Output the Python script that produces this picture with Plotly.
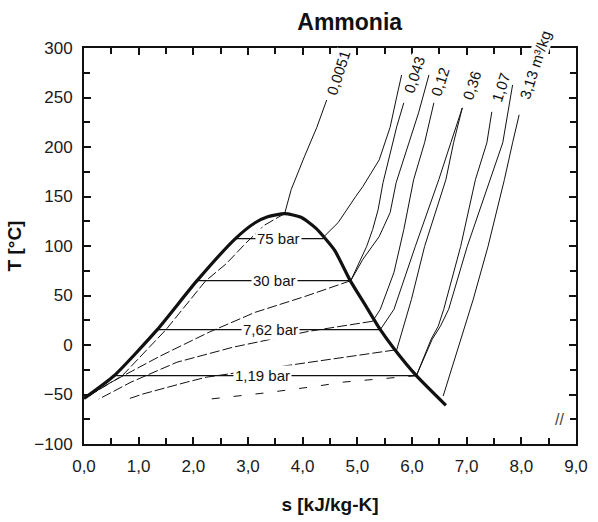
import plotly.graph_objects as go

# ---- saturation dome: liquid branch -> critical point -> vapour branch ----
dome_s = [0.0, 0.55, 1.34, 2.06, 2.77, 3.13, 3.36, 3.67, 3.97, 4.24, 4.58, 4.87, 5.16, 5.42, 5.69, 6.08, 6.62]
dome_T = [-54, -31, 15.5, 64.5, 107.5, 123.5, 129.5, 132.7, 129, 118, 96, 65, 39, 15.5, -5, -31, -61]

# ---- isobars across the two-phase region ----
isobar_names = ["75 bar", "30 bar", "7,62 bar", "1,19 bar"]
isobar_T = [107.5, 65, 15.5, -31]
isobar_s_liq = [2.77, 2.06, 1.34, 0.55]
isobar_s_vap = [4.38, 4.88, 5.42, 6.08]
isobar_label_s = [3.56, 3.49, 3.42, 3.27]

# ---- superheated-vapour lines ----
v0051_s = [3.67, 3.79, 4.03, 4.26, 4.44]
v0051_T = [132.7, 157, 190, 220, 247.6]

p75_s = [4.38, 4.65, 4.97, 5.10, 5.40, 5.60, 5.72, 5.81]
p75_T = [109, 123.7, 150, 160, 187, 220, 250.6, 272.8]

p30_s = [4.88, 5.03, 5.17, 5.28, 5.38, 5.47, 5.62, 5.72, 5.85]
p30_T = [65, 82.4, 99.5, 116.6, 136.7, 164, 197.2, 220.4, 244.6]

v043_s = [4.88, 5.10, 5.40, 5.60, 5.71, 5.94, 6.12, 6.31]
v043_T = [65, 86.4, 109.6, 133.7, 164, 204.3, 234.5, 272.8]

v012_s = [5.28, 5.42, 5.67, 5.85, 6.03, 6.23, 6.40]
v012_T = [24, 36, 73.3, 116.6, 167, 204.3, 244.6]

p762_s = [5.42, 5.67, 6.06, 6.49, 6.71, 6.92]
p762_T = [15.5, 36, 99.5, 167, 204.3, 239.5]

v036_s = [5.72, 5.99, 6.23, 6.62, 6.76, 6.92]
v036_T = [-5, 46.1, 99.5, 167, 204.3, 239.5]

v107_s = [6.08, 6.35, 6.48, 6.58, 6.89, 7.16, 7.37, 7.46]
v107_T = [-31, 5.8, 19, 36, 99.5, 167, 204.3, 235.5]

p119_s = [6.08, 6.37, 6.52, 6.67, 7.01, 7.42, 7.66, 7.84]
p119_T = [-31, 5.8, 19, 36, 99.5, 167, 204.3, 262.7]

v313_s = [6.57, 6.83, 7.12, 7.39, 7.69, 7.84, 7.96]
v313_T = [-51.6, -4.3, 46.1, 99.5, 167, 204.3, 232.5]

# ---- constant-volume lines inside the dome ----
wet0051_s = [3.67, 3.30, 2.98, 2.60, 2.22, 1.50, 0.70, 0.04]
wet0051_T = [132.7, 121, 104, 82, 64.5, 15.5, -31, -53]

wet043_s = [4.88, 4.04, 3.13, 2.29, 1.40, 0.50, 0.04]
wet043_T = [65, 49, 33, 13, -11, -37.5, -52.6]

wet012_s = [5.28, 4.11, 2.72, 1.70, 0.86, 0.27]
wet012_T = [24, 13.8, -2.3, -17.4, -37.5, -54.7]

wet036_s = [5.69, 3.85, 2.24, 1.88, 1.07, 0.80]
wet036_T = [-5, -19.4, -32.5, -37.5, -49.6, -54.7]

wet107_s = [6.08, 4.74, 4.26, 3.30, 2.29]
wet107_T = [-31, -37.5, -41.6, -48.5, -54.7]

# ---- specific-volume labels at the top ----
vol_labels = ["0,0051", "0,043", "0,12", "0,36", "1,07", "3,13 m³/kg"]
vol_label_s = [4.66, 6.05, 6.52, 7.10, 7.63, 8.26]
vol_label_T = [274.8, 272.8, 265.7, 261.7, 259.7, 282.9]

INK = "#111111"
SANS = "Liberation Sans, Arial, sans-serif"

fig = go.Figure()


def add_line(xs, ys, width=1.0, dash="solid", color=INK):
    fig.add_trace(go.Scatter(x=xs, y=ys, mode="lines",
                             line=dict(color=color, width=width, dash=dash),
                             hoverinfo="skip", showlegend=False))


# wet-region isochores (broken, thin)
for xs, ys in [(wet0051_s, wet0051_T), (wet043_s, wet043_T),
               (wet012_s, wet012_T), (wet036_s, wet036_T)]:
    add_line(xs, ys, width=1.0, dash="10px,3px")
add_line(wet107_s, wet107_T, width=1.0, dash="8px,14px")

# horizontal isobars between liquid and vapour branches
for T, s0, s1 in zip(isobar_T, isobar_s_liq, isobar_s_vap):
    add_line([s0, s1], [T, T], width=1.3)

# superheated region
for xs, ys in [(v0051_s, v0051_T), (p75_s, p75_T), (p30_s, p30_T), (v043_s, v043_T),
               (v012_s, v012_T), (p762_s, p762_T), (v036_s, v036_T),
               (v107_s, v107_T), (p119_s, p119_T), (v313_s, v313_T)]:
    add_line(xs, ys, width=1.0)

# saturation dome
fig.add_trace(go.Scatter(x=dome_s, y=dome_T, mode="lines",
                         line=dict(color=INK, width=3.2, shape="spline", smoothing=0.6),
                         hoverinfo="skip", showlegend=False))

# isobar labels (white box breaks the line)
for name, s, T in zip(isobar_names, isobar_label_s, isobar_T):
    fig.add_annotation(x=s, y=T, text=name, showarrow=False,
                       font=dict(family=SANS, size=15, color=INK),
                       bgcolor="white", borderpad=1)

# specific-volume labels
for name, s, T in zip(vol_labels, vol_label_s, vol_label_T):
    fig.add_annotation(x=s, y=T, text=name, showarrow=False, textangle=-72,
                       font=dict(family=SANS, size=15, color=INK),
                       bgcolor="white", borderpad=0)

# small hatch in the lower right corner
fig.add_annotation(x=0.98, y=0.035, xref="paper", yref="paper", text="//",
                   showarrow=False, font=dict(family=SANS, size=16, color="#444444"))

axis_common = dict(
    showgrid=False, zeroline=False,
    showline=True, linecolor=INK, linewidth=2, mirror="allticks",
    ticks="inside", ticklen=7, tickwidth=1.5, tickcolor=INK,
    tickfont=dict(family=SANS, size=17, color="#1a1a1a"),
)

fig.update_xaxes(range=[0, 9], tick0=0, dtick=1, tickformat=".1f",
                 minor=dict(dtick=0.5, ticks="inside", ticklen=6, tickwidth=1.5, tickcolor=INK),
                 title=dict(text="s [kJ/kg-K]", standoff=22,
                            font=dict(family=SANS, size=19, color=INK, weight="bold")),
                 ticklabelstandoff=6,
                 **axis_common)
fig.update_yaxes(range=[-100, 300], tick0=-100, dtick=50,
                 minor=dict(dtick=25, ticks="inside", ticklen=6, tickwidth=1.5, tickcolor=INK),
                 title=dict(text="T [°C]", standoff=8,
                            font=dict(family=SANS, size=19, color=INK, weight="bold")),
                 ticklabelstandoff=6,
                 **axis_common)

fig.update_layout(
    width=598, height=522,
    margin=dict(l=84, r=10, t=48, b=76),
    paper_bgcolor="white", plot_bgcolor="white",
    separators=",.",
    title=dict(text="Ammonia", x=0.54, xref="paper", xanchor="center",
               y=1 - 22 / 522, yref="container", yanchor="middle",
               font=dict(family=SANS, size=23, color=INK, weight="bold")),
)

fig.write_html("out.html")
